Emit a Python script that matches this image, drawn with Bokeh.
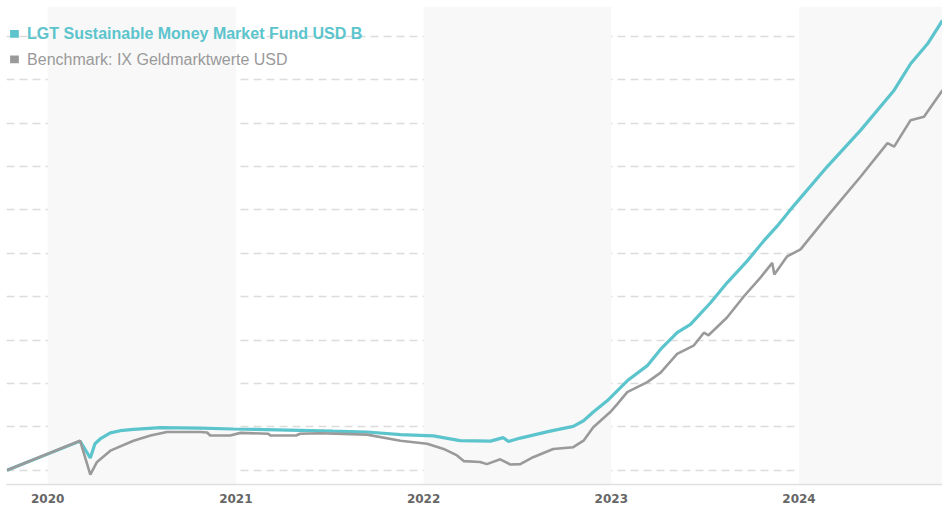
import pandas as pd
from bokeh.plotting import figure
from bokeh.models import Range1d, FixedTicker, BoxAnnotation, Label, DatetimeTickFormatter
from bokeh.embed import file_html
from bokeh.resources import INLINE

# ---- data (cumulative performance, %) ----
fund_name = "LGT Sustainable Money Market Fund USD B"
bench_name = "Benchmark: IX Geldmarktwerte USD"

fund_dates = ["2019-10-14", "2020-03-04", "2020-03-24", "2020-04-02", "2020-04-12", "2020-05-02",
              "2020-05-21", "2020-06-16", "2020-08-07", "2020-10-24", "2020-12-27", "2021-05-06",
              "2021-07-09", "2021-09-13", "2021-11-17", "2022-01-20", "2022-03-13", "2022-05-11",
              "2022-06-05", "2022-06-15", "2022-07-08", "2022-09-04", "2022-10-19", "2022-11-08",
              "2022-11-27", "2022-12-24", "2023-02-01", "2023-03-12", "2023-04-07", "2023-05-09",
              "2023-06-04", "2023-07-13", "2023-08-14", "2023-09-22", "2023-10-24", "2023-11-19",
              "2023-12-22", "2024-02-25", "2024-04-30", "2024-07-04", "2024-08-05", "2024-09-07",
              "2024-10-06"]
fund_values = [0.00, 0.67, 0.28, 0.61, 0.72, 0.86,
               0.91, 0.94, 0.98, 0.97, 0.95, 0.92,
               0.90, 0.88, 0.82, 0.79, 0.68, 0.67,
               0.75, 0.66, 0.74, 0.90, 1.01, 1.14,
               1.34, 1.60, 2.06, 2.41, 2.79, 3.17,
               3.36, 3.86, 4.32, 4.82, 5.28, 5.62,
               6.10, 7.00, 7.84, 8.76, 9.37, 9.83,
               10.37]

bench_dates = ["2019-10-14", "2020-03-04", "2020-03-24", "2020-04-06", "2020-05-02", "2020-06-16",
               "2020-07-19", "2020-08-20", "2020-10-24", "2020-11-06", "2020-11-12", "2020-12-21",
               "2021-01-10", "2021-03-05", "2021-03-09", "2021-04-28", "2021-05-06", "2021-06-14",
               "2021-09-13", "2021-11-17", "2022-01-08", "2022-02-09", "2022-03-07", "2022-03-20",
               "2022-04-21", "2022-05-04", "2022-05-30", "2022-06-19", "2022-07-08", "2022-08-02",
               "2022-09-10", "2022-10-19", "2022-11-08", "2022-11-27", "2022-12-30", "2023-01-13",
               "2023-02-01", "2023-03-12", "2023-04-07", "2023-05-09", "2023-06-10", "2023-06-30",
               "2023-07-09", "2023-08-14", "2023-09-16", "2023-10-18", "2023-11-10", "2023-11-14",
               "2023-12-09", "2024-01-04", "2024-02-25", "2024-04-30", "2024-06-21", "2024-07-04",
               "2024-08-05", "2024-08-31", "2024-10-06"]
bench_values = [0.00, 0.68, -0.10, 0.19, 0.45, 0.68,
                0.80, 0.88, 0.88, 0.87, 0.80, 0.80,
                0.86, 0.84, 0.80, 0.80, 0.84, 0.85,
                0.82, 0.68, 0.61, 0.49, 0.34, 0.21,
                0.19, 0.14, 0.25, 0.13, 0.14, 0.30,
                0.49, 0.53, 0.68, 0.99, 1.34, 1.53,
                1.80, 2.03, 2.25, 2.68, 2.87, 3.17,
                3.11, 3.52, 4.01, 4.44, 4.78, 4.51,
                4.93, 5.09, 5.85, 6.77, 7.54, 7.46,
                8.07, 8.15, 8.76]

year_ticks = ["2020-01-01", "2021-01-01", "2022-01-01", "2023-01-01", "2024-01-01"]
shaded_years = [("2020-01-01", "2021-01-01"), ("2022-01-01", "2023-01-01"), ("2024-01-01", "2025-01-01")]
grid_values = [0, 1, 2, 3, 4, 5, 6, 7, 8, 9, 10]
x_start, x_end = "2019-10-13", "2024-10-06"
y_start, y_end = -0.33, 10.69

TEAL = "#5cc4cc"
GRAY = "#9a9a9a"


def ms(d):
    return pd.Timestamp(d).value / 1e6


p = figure(width=942, height=505, x_axis_type="datetime",
           output_backend="svg", toolbar_location=None,
           x_range=Range1d(ms(x_start), ms(x_end)), y_range=Range1d(y_start, y_end),
           min_border_left=6, min_border_right=0, min_border_top=6, min_border_bottom=0)

p.outline_line_color = None
p.background_fill_color = "white"
p.border_fill_color = "white"

for a, b in shaded_years:
    p.add_layout(BoxAnnotation(left=ms(a), right=ms(b), fill_color="#f8f8f8", fill_alpha=1.0,
                               line_color=None, level="underlay"))

p.yaxis.visible = False
p.ygrid.ticker = FixedTicker(ticks=grid_values)
p.ygrid.grid_line_color = "#dcdcdc"
p.ygrid.grid_line_width = 1.5
p.ygrid.grid_line_dash = "8 5"
p.xgrid.visible = False

xa = p.xaxis[0]
xa.ticker = FixedTicker(ticks=[ms(t) for t in year_ticks])
xa.formatter = DatetimeTickFormatter(years="%Y", months="%Y", days="%Y", hours="%Y")
xa.major_tick_line_color = None
xa.minor_tick_line_color = None
xa.axis_line_color = "#e0e0e0"
xa.axis_line_width = 1.5
xa.major_label_text_font = "DejaVu Sans"
xa.major_label_text_font_size = "12px"
xa.major_label_text_font_style = "bold"
xa.major_label_text_color = "#666666"
xa.major_label_text_align = "left"
xa.major_label_standoff = 3

p.line([ms(d) for d in fund_dates], fund_values, line_color=TEAL, line_width=3.2)
p.line([ms(d) for d in bench_dates], bench_values, line_color=GRAY, line_width=2.6)

# legend
p.add_layout(BoxAnnotation(left=ms("2019-10-20"), right=ms("2019-11-06"), top=10.15, bottom=9.97,
                           fill_color=TEAL, fill_alpha=1.0, line_color=None))
p.add_layout(BoxAnnotation(left=ms("2019-10-20"), right=ms("2019-11-06"), top=9.56, bottom=9.38,
                           fill_color=GRAY, fill_alpha=1.0, line_color=None))
p.add_layout(Label(x=ms("2019-11-22"), y=10.07, text=fund_name, text_font="Liberation Sans",
                   text_font_size="16px", text_font_style="bold", text_color=TEAL,
                   text_baseline="middle", text_align="left"))
p.add_layout(Label(x=ms("2019-11-22"), y=9.47, text=bench_name, text_font="Liberation Sans",
                   text_font_size="16px", text_color=GRAY,
                   text_baseline="middle", text_align="left"))

open("out.html", "w").write(file_html(p, INLINE))
